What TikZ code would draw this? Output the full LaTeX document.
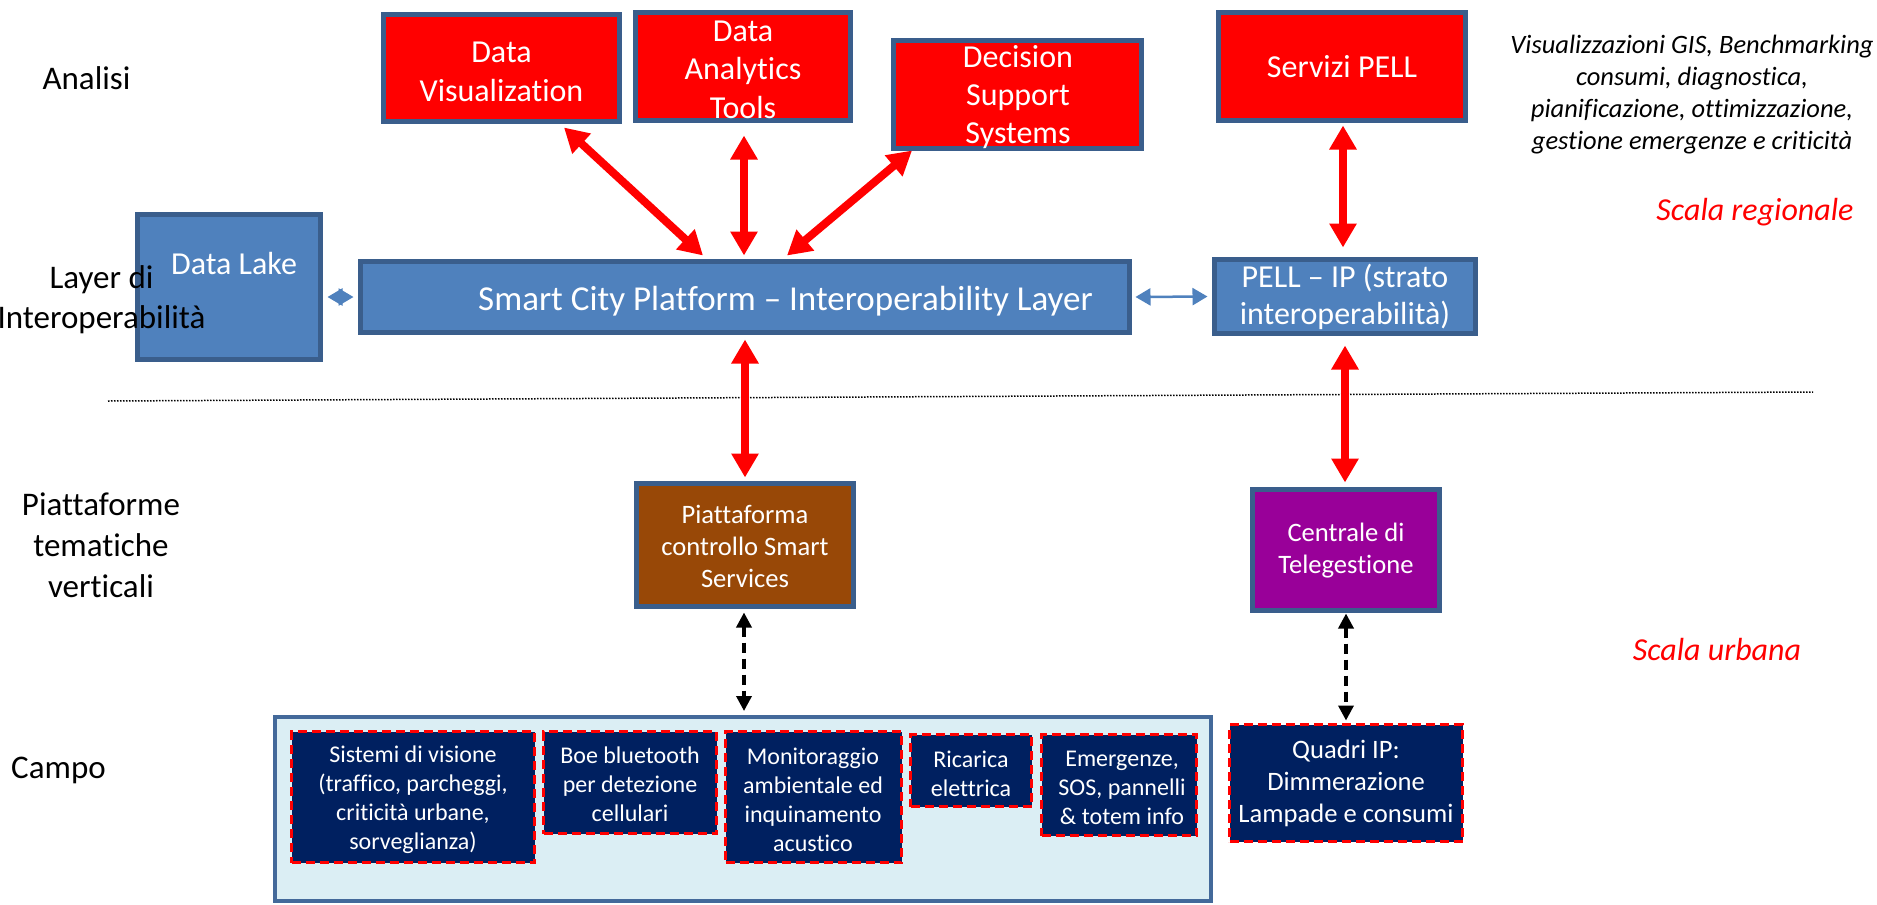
\documentclass[tikz,border=0pt]{standalone}
\usepackage{fontspec}
\setmainfont{Carlito}[Ligatures=CommonOff]
\usetikzlibrary{arrows.meta,calc}
\definecolor{bordc}{HTML}{3A5E8C}
\definecolor{boxred}{HTML}{FF0000}
\definecolor{boxblue}{HTML}{4F81BD}
\definecolor{boxbrown}{HTML}{984807}
\definecolor{boxpurple}{HTML}{990099}
\definecolor{boxnavy}{HTML}{002060}
\definecolor{campofill}{HTML}{DBEEF4}
\definecolor{campobord}{HTML}{43699A}
\newcommand{\fsz}[2]{\fontsize{#1}{#2}\selectfont}
\begin{document}
\begin{tikzpicture}[x=1pt,y=-1pt,
  wh/.style 2 args={minimum width=#1pt, minimum height=#2pt},
  box/.style={draw=bordc, line width=5pt, inner sep=0pt},
  fieldbox/.style={draw=boxred, fill=boxnavy, line width=3pt, dash pattern=on 9pt off 5pt, inner sep=0pt},
  wtxt/.style={text=white, inner sep=0pt, align=center},
  btxt/.style={text=black, inner sep=0pt, align=center},
  redarr/.style={draw=boxred, line width=8pt, {Triangle[length=24pt,width=26pt]}-{Triangle[length=24pt,width=26pt]}},
  bluearr/.style={draw=boxblue, line width=2.5pt, {Triangle[length=15pt,width=17pt]}-{Triangle[length=15pt,width=17pt]}},
  blackarr/.style={draw=black, line width=3.5pt, dash pattern=on 10pt off 6pt, {Triangle[length=15pt,width=15pt]}-{Triangle[length=15pt,width=15pt]}}
]
\fill[white] (0,0) rectangle (1877,905);
\useasboundingbox (0,0) rectangle (1877,905);

% analysis boxes
\node[box, fill=boxred, wh={236}{107}] (dv) at (501.5,68) {};
\node[wtxt, font=\fsz{32}{39}] (dvt) at (501.5,71.5) {Data\\Visualization};
\node[box, fill=boxred, wh={215}{108}] (dat) at (743,66.5) {};
\node[wtxt, font=\fsz{32}{38.5}] (datt) at (743,69.5) {Data\\Analytics\\Tools};
\node[box, fill=boxred, wh={248}{108}] (dss) at (1017.5,94.5) {};
\node[wtxt, font=\fsz{32}{38}] (dsst) at (1018,97.5) {Decision\\Support\\Systems};
\node[box, fill=boxred, wh={247}{108}] (spell) at (1342,66.5) {};
\node[wtxt, anchor=base, font=\fsz{32}{38}] (spellt) at (1342,77) {Servizi PELL};

\node[btxt, font=\fsz{26.5}{32}\itshape] (desc) at (1692,94.5) {Visualizzazioni GIS, Benchmarking\\consumi, diagnostica,\\pianificazione, ottimizzazione,\\gestione emergenze e criticità};
\node[anchor=base, inner sep=0pt, text=boxred, font=\fsz{32}{38}\itshape] (sreg) at (1755,220) {Scala regionale};

% interoperability layer
\node[box, fill=boxblue, wh={183}{145}] (lake) at (229,287) {};
\node[wtxt, anchor=base, font=\fsz{32}{38}] (laket) at (234,274) {Data Lake};
\node[box, fill=boxblue, wh={769}{71}] (scp) at (745,297) {};
\node[wtxt, anchor=base, font=\fsz{35}{42}] (scpt) at (785.5,310) {Smart City Platform – Interoperability Layer};
\node[box, fill=boxblue, wh={261}{74}] (pip) at (1345,296.5) {};
\node[wtxt, font=\fsz{32}{37.5}] (pipt) at (1345,297) {PELL – IP (strato\\interoperabilità)};

% left labels (drawn over the Data Lake box)
\node[btxt, anchor=base, font=\fsz{33}{40}] (lanalisi) at (86.5,89) {Analisi};
\node[btxt, font=\fsz{33}{40}] (llayer) at (101.5,300) {Layer di\\Interoperabilità};
\node[btxt, font=\fsz{33}{41}] (lpiatt) at (101,545.5) {Piattaforme\\tematiche\\verticali};
\node[btxt, anchor=base, font=\fsz{33}{40}] (lcampo) at (58.5,778) {Campo};

% dotted separator
\coordinate (sepl) at (108,401);
\coordinate (sepr) at (1813,392);
\draw[black, line width=1.5pt, dash pattern=on 1.5pt off 1.5pt] (sepl) -- (sepr);

% vertical platforms
\node[box, fill=boxbrown, wh={217}{123}] (piatt) at (745,545) {};
\node[wtxt, font=\fsz{26.6}{32}] (piattt) at (745,546) {Piattaforma\\controllo Smart\\Services};
\node[box, fill=boxpurple, wh={187}{121}] (cent) at (1346,550) {};
\node[wtxt, font=\fsz{26.6}{32}] (centt) at (1346,550.5) {Centrale di\\Telegestione};
\node[anchor=base, inner sep=0pt, text=boxred, font=\fsz{32}{38}\itshape] (surb) at (1717,660) {Scala urbana};

% field
\node[draw=campobord, fill=campofill, line width=4pt, inner sep=0pt, wh={936}{184}] (campo) at (743,809) {};
\node[fieldbox, wh={243}{131}] (f1) at (413,797) {};
\node[wtxt, font=\fsz{24}{29}] (f1t) at (413,799.7) {Sistemi di visione\\(traffico, parcheggi,\\criticità urbane,\\sorveglianza)};
\node[fieldbox, wh={173}{102}] (f2) at (630,782.5) {};
\node[wtxt, font=\fsz{24}{29}] (f2t) at (630,784.7) {Boe bluetooth\\per detezione\\cellulari};
\node[fieldbox, wh={176}{131}] (f3) at (813.5,797) {};
\node[wtxt, font=\fsz{24}{29}] (f3t) at (813,800) {Monitoraggio\\ambientale ed\\inquinamento\\acustico};
\node[fieldbox, wh={121}{72}] (f4) at (971,770.5) {};
\node[wtxt, font=\fsz{24}{29}] (f4t) at (971,774) {Ricarica\\elettrica};
\node[fieldbox, wh={155}{101}] (f5) at (1119,785) {};
\node[wtxt, font=\fsz{24}{29}] (f5t) at (1122,788) {Emergenze,\\SOS, pannelli\\\& totem info};
\node[fieldbox, wh={233}{117}] (f6) at (1346,783) {};
\node[wtxt, font=\fsz{26.6}{32}] (f6t) at (1346,783.5) {Quadri IP:\\Dimmerazione\\Lampade e consumi};

% connectors
\draw[redarr] ($(dv.south)+(62.5,3.5)$) -- ($(scp.north)+(-42,-3.5)$);
\draw[redarr] ($(dat.south)+(1,12.5)$) -- ($(scp.north)+(-1,-3.5)$);
\draw[redarr] ($(dss.south)+(-105.5,-0.5)$) -- ($(scp.north)+(42,-3.5)$);
\draw[redarr] ($(spell.south)+(1,2.5)$) -- ($(pip.north)+(-2,-9.5)$);
\draw[redarr] ($(scp.south)+(0,4.5)$) -- ($(piatt.north)+(0,-3.5)$);
\draw[redarr] ($(pip.south)+(0,9.5)$) -- ($(cent.north)+(-1,-4.5)$);

\draw[bluearr, shorten <=4.5pt, shorten >=4.5pt] (lake.east |- scp.west) -- (scp.west);
\draw[bluearr, shorten <=3.5pt, shorten >=4.5pt] (scp.east) -- (pip.west);

\draw[blackarr] ($(piatt.south)+(-1,3.5)$) -- ($(campo.north)+(1,-4)$);
\draw[blackarr] ($(cent.south)+(0,0.5)$) -- ($(f6.north)+(0,-2.5)$);
\end{tikzpicture}
\end{document}
